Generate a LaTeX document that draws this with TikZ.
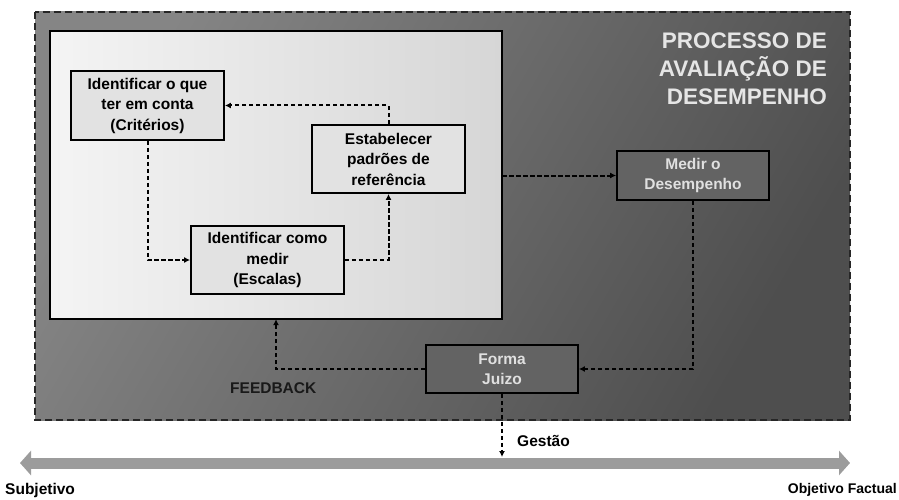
\documentclass[tikz,border=0pt]{standalone}
\usepackage{fontspec}
\setmainfont{Liberation Sans}
\usetikzlibrary{arrows.meta,positioning}
\definecolor{outerL}{HTML}{858585}
\definecolor{outerR}{HTML}{4E4E4E}
\definecolor{innerL}{HTML}{F4F4F4}
\definecolor{innerR}{HTML}{D6D6D6}
\definecolor{boxfill}{HTML}{E2E2E2}
\definecolor{darkbox}{HTML}{636363}
\definecolor{bandgray}{HTML}{9C9C9C}
\tikzset{
  lightbox/.style={draw=black, line width=1.8pt, fill=boxfill, align=center,
    font=\bfseries\fontsize{15.5}{20.5}\selectfont, inner sep=0pt},
  darkbox/.style={draw=black, line width=1.8pt, fill=darkbox, align=center, text=white!88!black,
    font=\bfseries\fontsize{15.5}{20.5}\selectfont, inner sep=0pt},
  flow/.style={draw=black, line width=2pt, dash pattern=on 4.5pt off 2.5pt, -{Latex[length=6pt,width=6pt]}},
  lbl/.style={font=\bfseries\fontsize{15.5}{18}\selectfont, inner sep=0pt}
}
\begin{document}
\begin{tikzpicture}[x=1pt,y=-1pt]
\useasboundingbox (0,0) rectangle (899,500);
\fill[white] (0,0) rectangle (899,500);
% outer dashed region
\shade[shading=axis, left color=outerL, right color=outerR, shading angle=60]
  (35,12) rectangle (850,420);
\draw[line width=2.2pt, dash pattern=on 7pt off 4pt, black!85] (35,12) rectangle (850,420);
% inner panel
\shade[left color=innerL, right color=innerR] (50,31) rectangle (502,319);
\draw[line width=2pt] (50,31) rectangle (502,319);
\node[inner sep=0pt] (inner) at (276,175) [minimum width=452pt, minimum height=288pt] {};
% title
\node[anchor=north east, align=right, text=white!90!black, inner sep=0pt,
  font=\bfseries\fontsize{22.5}{28}\selectfont] (title) at (827,33)
  {PROCESSO DE\\AVALIAÇÃO DE\\DESEMPENHO};
% boxes
\node[lightbox, minimum width=153pt, minimum height=69pt] (A) at (147.5,105.5)
  {Identificar o que\\ter em conta\\(Critérios)};
\node[lightbox, minimum width=153pt, minimum height=68pt] (B) at (388.5,159)
  {Estabelecer\\padrões de\\referência};
\node[lightbox, minimum width=153pt, minimum height=68pt] (C) at (267.5,260)
  {Identificar como\\medir\\(Escalas)};
\node[darkbox, minimum width=152pt, minimum height=49pt] (D) at (693,175.5)
  {Medir o\\Desempenho};
\node[darkbox, minimum width=152pt, minimum height=48pt] (E) at (502,369)
  {Forma\\Juizo};
% connectors
\draw[flow] (A.south) |- (C.west);
\draw[flow] (C.east) -| (B.south);
\draw[flow] (B.north) |- (A.east);
\draw[flow] (inner.east |- D.west) -- (D.west);
\draw[flow] (D.south) |- (E.east);
\draw[flow] (E.west) -| (inner.south);
\coordinate (gest) at (502,457);
\draw[flow] (E.south) -- (gest);
% labels
\node[lbl, text=black!90, anchor=west] (fb) at (230,388) {FEEDBACK};
\node[lbl, anchor=west] (gl) at (517,441) {Gestão};
% scale band
\coordinate (sL) at (20,463);
\coordinate (sR) at (850,463);
\draw[bandgray, line width=11pt, {Triangle[length=11pt,width=24pt]}-{Triangle[length=11pt,width=24pt]}] (sL) -- (sR);
\node[lbl, anchor=west] (subj) at (5,490) {Subjetivo};
\node[lbl, anchor=east, font=\bfseries\fontsize{14}{18}\selectfont] (obj) at (897,490) {Objetivo Factual};
\end{tikzpicture}
\end{document}
